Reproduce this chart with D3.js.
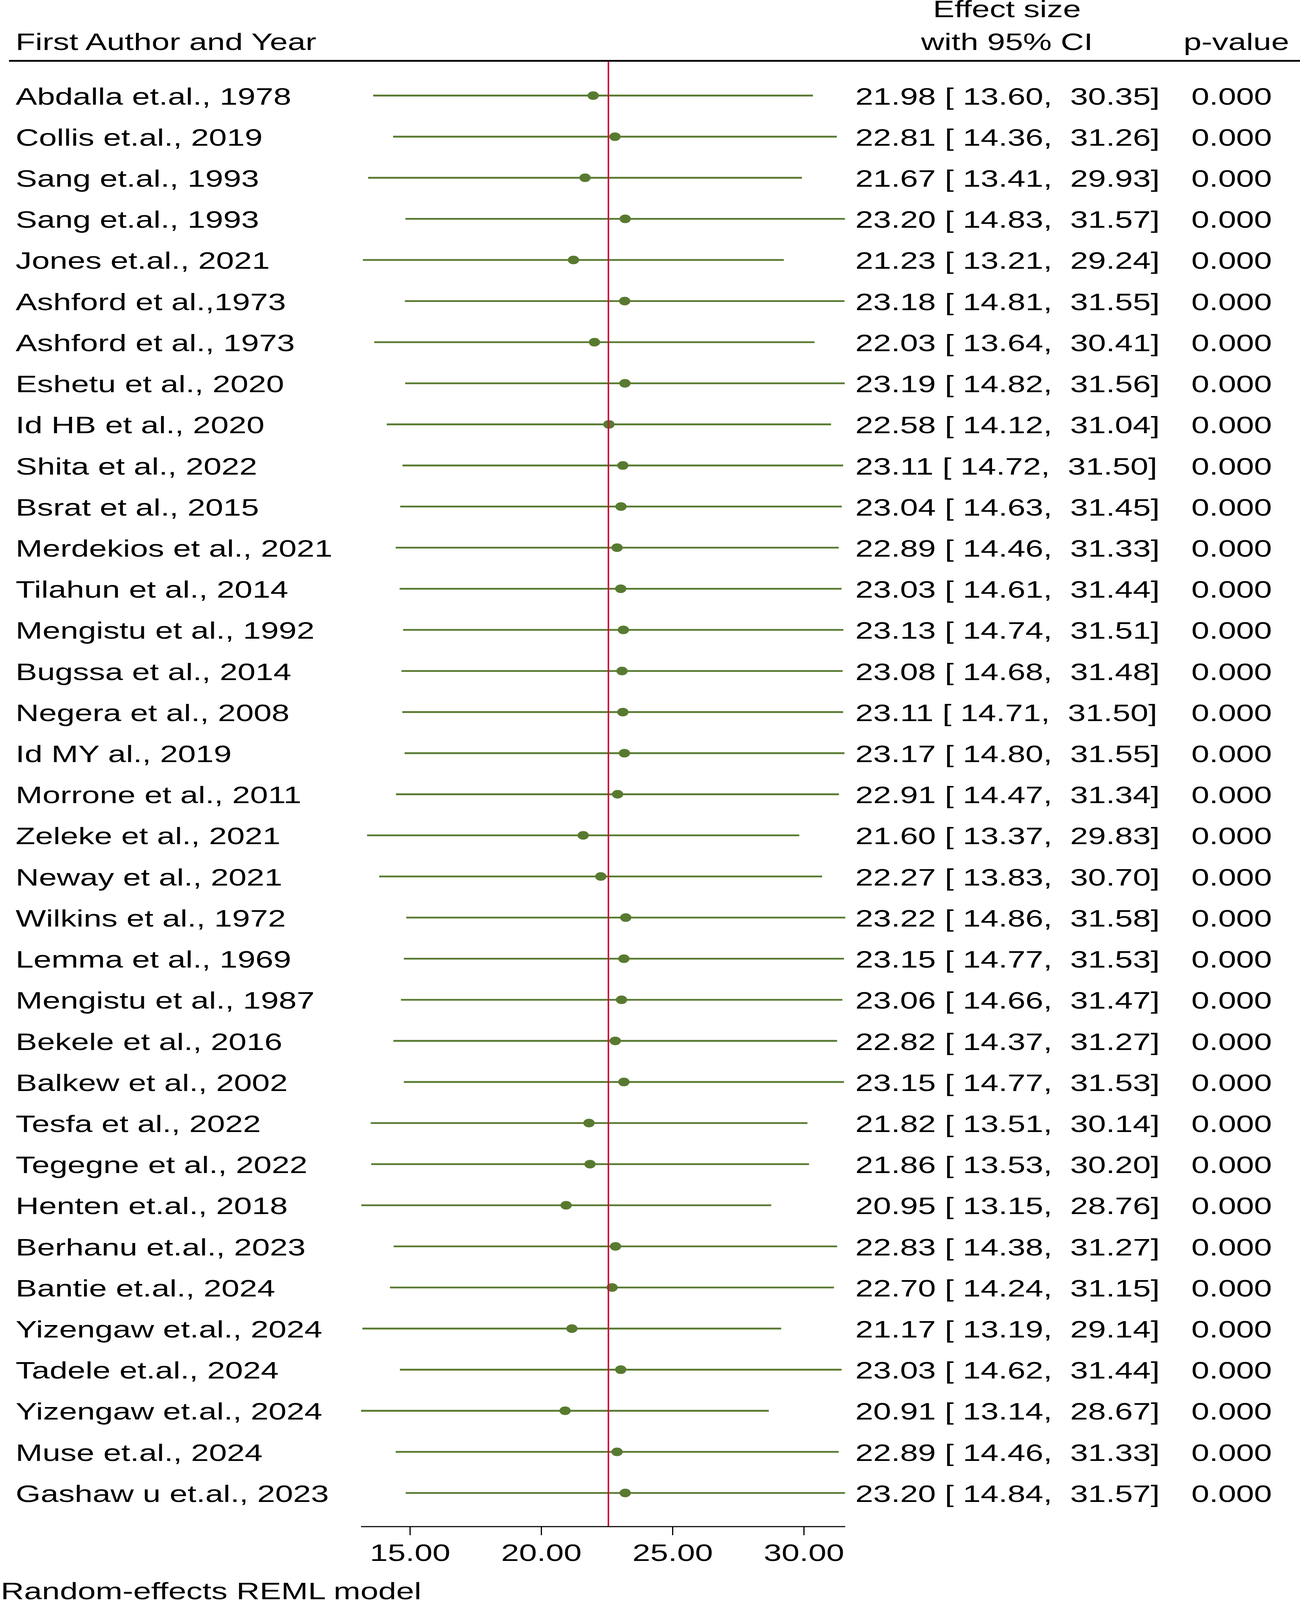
<!DOCTYPE html>
<html>
<head>
<meta charset="utf-8">
<script src="https://cdn.jsdelivr.net/npm/d3@7.9.0/dist/d3.min.js"></script>
<style>
  html, body { margin: 0; padding: 0; background: #fff; overflow: hidden; }
  #chart svg { display: block; width: 100vw; height: 100vh; }
  text { font-family: "Liberation Sans", Arial, Helvetica, sans-serif; fill: #000; }
</style>
</head>
<body>
<div id="chart"></div>
<script>
// study labels, in plotting order
const studies = [
  'Abdalla et.al., 1978', 'Collis et.al., 2019', 'Sang et.al., 1993', 'Sang et.al., 1993',
  'Jones et.al., 2021', 'Ashford et al.,1973', 'Ashford et al., 1973', 'Eshetu et al., 2020',
  'Id HB et al., 2020', 'Shita et al., 2022', 'Bsrat et al., 2015', 'Merdekios et al., 2021',
  'Tilahun et al., 2014', 'Mengistu et al., 1992', 'Bugssa et al., 2014', 'Negera et al., 2008',
  'Id MY al., 2019', 'Morrone et al., 2011', 'Zeleke et al., 2021', 'Neway et al., 2021',
  'Wilkins et al., 1972', 'Lemma et al., 1969', 'Mengistu et al., 1987', 'Bekele et al., 2016',
  'Balkew et al., 2002', 'Tesfa et al., 2022', 'Tegegne et al., 2022', 'Henten et.al., 2018',
  'Berhanu et.al., 2023', 'Bantie et.al., 2024', 'Yizengaw et.al., 2024', 'Tadele et.al., 2024',
  'Yizengaw et.al., 2024', 'Muse et.al., 2024', 'Gashaw u et.al., 2023'
];

const effect = [
  21.98, 22.81, 21.67, 23.20, 21.23, 23.18, 22.03, 23.19, 22.58, 23.11, 23.04, 22.89,
  23.03, 23.13, 23.08, 23.11, 23.17, 22.91, 21.60, 22.27, 23.22, 23.15, 23.06, 22.82,
  23.15, 21.82, 21.86, 20.95, 22.83, 22.70, 21.17, 23.03, 20.91, 22.89, 23.20
];

const lower = [
  13.60, 14.36, 13.41, 14.83, 13.21, 14.81, 13.64, 14.82, 14.12, 14.72, 14.63, 14.46,
  14.61, 14.74, 14.68, 14.71, 14.80, 14.47, 13.37, 13.83, 14.86, 14.77, 14.66, 14.37,
  14.77, 13.51, 13.53, 13.15, 14.38, 14.24, 13.19, 14.62, 13.14, 14.46, 14.84
];

const upper = [
  30.35, 31.26, 29.93, 31.57, 29.24, 31.55, 30.41, 31.56, 31.04, 31.50, 31.45, 31.33,
  31.44, 31.51, 31.48, 31.50, 31.55, 31.34, 29.83, 30.70, 31.58, 31.53, 31.47, 31.27,
  31.53, 30.14, 30.20, 28.76, 31.27, 31.15, 29.14, 31.44, 28.67, 31.33, 31.57
];

const pvalues = new Array(studies.length).fill('0.000');

const pooled = 22.56;
const xTicks = [15, 20, 25, 30];

const headers = {
  study: 'First Author and Year',
  es1: 'Effect size',
  es2: 'with 95% CI',
  p: 'p-value'
};
const footnote = 'Random-effects REML model';

const rows = studies.map((name, i) => ({
  name, es: effect[i], lo: lower[i], hi: upper[i], p: pvalues[i]
}));

const width = 3327;
const height = 4470;
const fontSize = 67;
const SX = 1.23; // glyphs in the picture are stretched sideways

// drawn in a fixed 3327x4470 space, fitted to the window
const svg = d3.select('#chart')
  .append('svg')
  .attr('viewBox', `0 0 ${width} ${height}`)
  .attr('preserveAspectRatio', 'none');

svg.append('rect')
  .attr('width', width).attr('height', height)
  .attr('fill', '#fff');

const xScale = d3.scaleLinear()
  .domain([15, 30])
  .range([1049, 2057]);

const yScale = d3.scaleLinear()
  .domain([0, rows.length - 1])
  .range([267, 4171]);

const axisY = 4265;
const xMin = d3.min(lower);
const xMax = d3.max(upper);

const fmt = d3.format('.2f');
// Stata style: "es [ lo,  hi]" with each bound padded to width 6
const pad6 = v => fmt(v).padStart(6, ' ');

function label(g, str, x, y, anchor = 'start') {
  g.append('text')
    .attr('transform', `translate(${x},${y}) scale(${SX},1)`)
    .attr('text-anchor', anchor)
    .attr('xml:space', 'preserve')
    .style('font-size', fontSize + 'px')
    .style('white-space', 'pre')
    .text(str);
}

// header
const head = svg.append('g').attr('class', 'header');
label(head, headers.study, 40, 140);
label(head, headers.es1, 2577, 48, 'middle');
label(head, headers.es2, 2577, 140, 'middle');
label(head, headers.p, 3029, 140);

head.append('line')
  .attr('x1', 23).attr('x2', width)
  .attr('y1', 170).attr('y2', 170)
  .attr('stroke', '#000')
  .attr('stroke-width', 5);

// CI lines
const marks = svg.append('g').attr('class', 'marks');

marks.selectAll('line.ci')
  .data(rows)
  .join('line')
  .attr('class', 'ci')
  .attr('x1', d => xScale(d.lo))
  .attr('x2', d => xScale(d.hi))
  .attr('y1', (d, i) => yScale(i))
  .attr('y2', (d, i) => yScale(i))
  .attr('stroke', '#587a30')
  .attr('stroke-width', 5);

// pooled estimate line
svg.append('line')
  .attr('x1', xScale(pooled)).attr('x2', xScale(pooled))
  .attr('y1', 172).attr('y2', axisY)
  .attr('stroke', '#c8143c')
  .attr('stroke-width', 4);

marks.selectAll('ellipse')
  .data(rows)
  .join('ellipse')
  .attr('cx', d => xScale(d.es))
  .attr('cy', (d, i) => yScale(i))
  .attr('rx', 14.5)
  .attr('ry', 12)
  .attr('fill', '#587a30');

// text columns
const cols = svg.append('g').attr('class', 'cols');
rows.forEach((d, i) => {
  const base = yScale(i) + 25;
  label(cols, d.name, 40, base);
  label(cols, `${fmt(d.es)} [${pad6(d.lo)}, ${pad6(d.hi)}]`, 2189, base);
  label(cols, d.p, 3049, base);
});

// x axis
const axisG = svg.append('g')
  .attr('transform', `translate(0,${axisY})`);

axisG.append('line')
  .attr('x1', xScale(xMin)).attr('x2', xScale(xMax))
  .attr('stroke', '#000')
  .attr('stroke-width', 3);

axisG.call(
  d3.axisBottom(xScale)
    .tickValues(xTicks)
    .tickSize(24)
    .tickSizeOuter(0)
    .tickFormat(fmt)
);
axisG.select('.domain').remove();
axisG.selectAll('.tick line')
  .attr('stroke', '#000')
  .attr('stroke-width', 3);
axisG.selectAll('.tick text')
  .attr('y', 96)
  .attr('dy', 0)
  .attr('transform', `scale(${SX},1)`)
  .attr('font-family', null)
  .attr('font-size', null)
  .style('font-size', fontSize + 'px');

label(svg, footnote, 2, 4468);
</script>
</body>
</html>
